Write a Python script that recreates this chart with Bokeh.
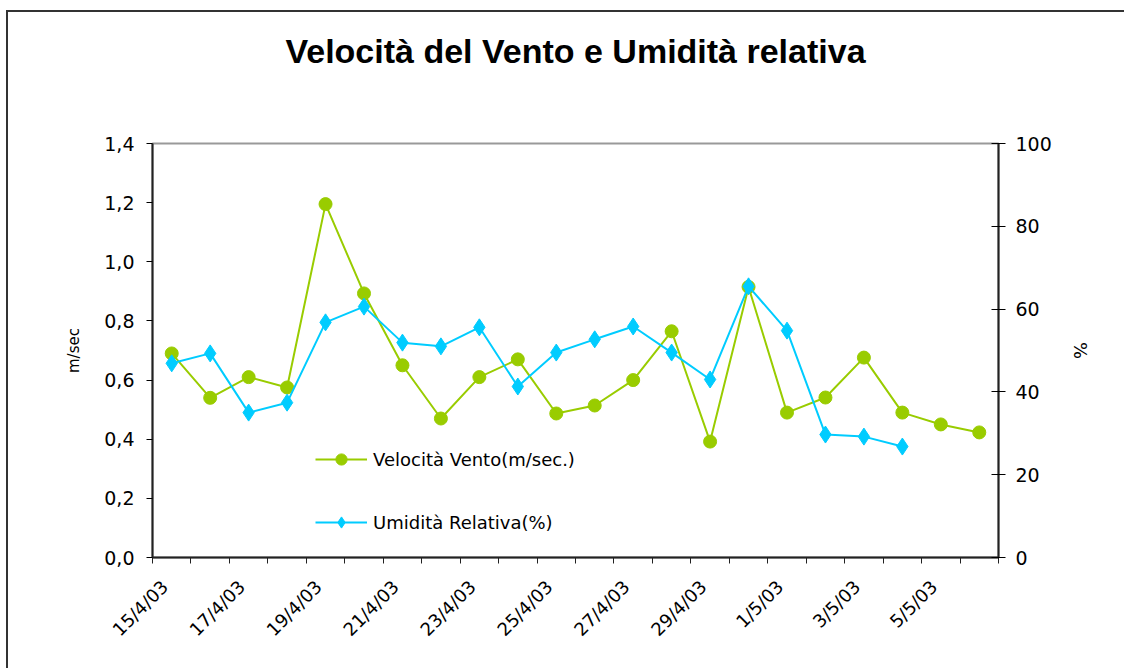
import math
from bokeh.plotting import figure
from bokeh.models import Range1d, LinearAxis, FixedTicker, Legend, LegendItem, Title
from bokeh.embed import file_html
from bokeh.resources import INLINE

# ---- data ----
dates = ["15/4/03", "16/4/03", "17/4/03", "18/4/03", "19/4/03", "20/4/03",
         "21/4/03", "22/4/03", "23/4/03", "24/4/03", "25/4/03", "26/4/03",
         "27/4/03", "28/4/03", "29/4/03", "30/4/03", "1/5/03", "2/5/03",
         "3/5/03", "4/5/03", "5/5/03", "6/5/03"]
wind = [0.69, 0.54, 0.61, 0.575, 1.195, 0.893, 0.65, 0.47, 0.61, 0.67, 0.487,
        0.514, 0.60, 0.765, 0.392, 0.915, 0.49, 0.541, 0.676, 0.49, 0.45, 0.423]
humidity = [46.9, 49.3, 35.0, 37.4, 56.8, 60.6, 51.9, 51.0, 55.6, 41.3, 49.5,
            52.7, 55.8, 49.5, 43.0, 65.5, 54.8, 29.7, 29.2, 26.8]
left_ticks = [0.0, 0.2, 0.4, 0.6, 0.8, 1.0, 1.2, 1.4]
left_labels = ["0,0", "0,2", "0,4", "0,6", "0,8", "1,0", "1,2", "1,4"]
right_ticks = [0, 20, 40, 60, 80, 100]
title_text = "Velocità del Vento e Umidità relativa"
wind_name = "Velocità Vento(m/sec.)"
hum_name = "Umidità Relativa(%)"

GREEN = "#99CC00"
BLUE = "#00CCFF"
FONT = "DejaVu Sans"

n = len(dates)
x_all = list(range(n))
x_hum = x_all[:len(humidity)]

p = figure(frame_width=846, frame_height=414,
           min_border_left=144, min_border_right=126,
           min_border_top=131, min_border_bottom=111,
           x_range=Range1d(-0.5, n - 0.5), y_range=Range1d(0, 1.4),
           output_backend="svg", toolbar_location=None)
p.extra_y_ranges = {"hum": Range1d(0, 100)}
p.xgrid.visible = False
p.ygrid.visible = False
p.outline_line_color = "#999999"
p.outline_line_width = 2
p.background_fill_color = "white"
p.border_fill_color = "white"
p.styles = {"border-top": "2px solid #333333", "border-left": "2px solid #333333",
            "margin-left": "6px", "margin-top": "10px"}

# title (outermost), with an empty spacer title between it and the frame
p.title.text = title_text
p.title.align = "center"
p.title.text_font = "Liberation Sans"
p.title.text_font_style = "bold"
p.title.text_font_size = "34px"
p.title.text_color = "black"
p.title.standoff = 10
p.add_layout(Title(text=" ", text_font_size="10px", standoff=56), "above")

# x axis: labels at every other category (anchored slightly left of the
# category centre, as in the original), ticks at category boundaries
label_shift = 0.18
label_idx = x_all[::2]
label_pos = [i - label_shift for i in label_idx]
xa = p.xaxis[0]
xa.ticker = FixedTicker(ticks=label_pos, minor_ticks=[i - 0.5 for i in range(n + 1)])
xa.major_label_overrides = {pos: dates[i] for pos, i in zip(label_pos, label_idx)}
xa.major_tick_line_color = None
xa.major_tick_out = 0
xa.major_tick_in = 0
xa.minor_tick_line_color = "#222222"
xa.minor_tick_out = 6
xa.minor_tick_in = 0
xa.minor_tick_line_width = 1
xa.major_label_orientation = math.pi / 4
xa.major_label_standoff = 20
xa.major_label_text_font = FONT
xa.major_label_text_font_size = "18px"
xa.major_label_text_color = "black"
xa.axis_line_color = "#222222"
xa.axis_line_width = 2

# left axis
ya = p.yaxis[0]
ya.ticker = FixedTicker(ticks=left_ticks)
ya.major_label_overrides = dict(zip(left_ticks, left_labels))
ya.axis_label = "m/sec"
ya.axis_label_text_font = FONT
ya.axis_label_text_font_size = "15px"
ya.axis_label_text_font_style = "normal"
ya.axis_label_text_color = "black"
ya.axis_label_standoff = 18
ya.major_label_text_font = FONT
ya.major_label_text_font_size = "19px"
ya.major_label_text_color = "black"
ya.major_tick_out = 6
ya.major_tick_in = 0
ya.minor_tick_line_color = None
ya.axis_line_color = "#222222"
ya.axis_line_width = 2
ya.major_label_standoff = 12

# right axis
ra = LinearAxis(y_range_name="hum", ticker=FixedTicker(ticks=right_ticks), axis_label="%")
ra.axis_label_text_font = FONT
ra.axis_label_text_font_size = "18px"
ra.axis_label_text_font_style = "normal"
ra.axis_label_text_color = "black"
ra.axis_label_standoff = 15
ra.major_label_text_font = FONT
ra.major_label_text_font_size = "19px"
ra.major_label_text_color = "black"
ra.major_tick_out = 7
ra.major_tick_in = 7
ra.minor_tick_line_color = None
ra.axis_line_color = "#222222"
ra.axis_line_width = 2
ra.major_label_standoff = 10
p.add_layout(ra, "right")

# series
l1 = p.line(x_all, wind, line_color=GREEN, line_width=2)
m1 = p.scatter(x_all, wind, marker="circle", size=13, fill_color=GREEN, line_color=GREEN)
l2 = p.line(x_hum, humidity, line_color=BLUE, line_width=2, y_range_name="hum")
m2 = p.scatter(x_hum, humidity, marker="diamond", size=17, fill_color=BLUE, line_color=BLUE,
               y_range_name="hum")

legend = Legend(items=[LegendItem(label=wind_name, renderers=[l1, m1]),
                       LegendItem(label=hum_name, renderers=[l2, m2])],
                location=(163, 21), orientation="vertical",
                glyph_width=52, glyph_height=28, label_height=28,
                spacing=35, padding=0, margin=0, label_standoff=6,
                border_line_alpha=0, background_fill_alpha=0,
                label_text_font=FONT, label_text_font_size="18px",
                label_text_color="black")
p.add_layout(legend)

open("out.html", "w").write(file_html(p, INLINE))
